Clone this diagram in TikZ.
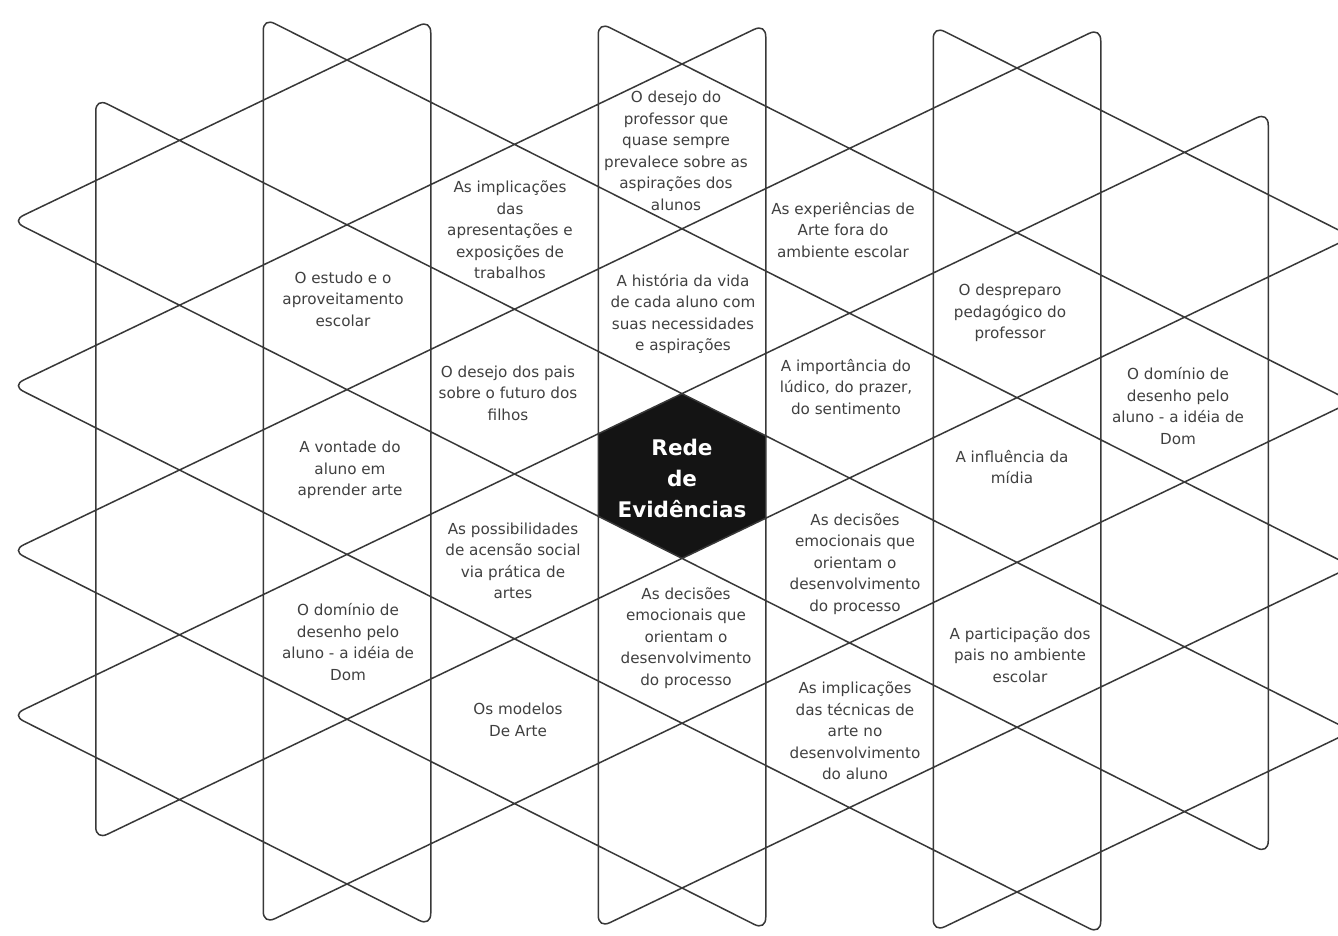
\documentclass[tikz,border=0pt]{standalone}
\usepackage{fontspec}
\setmainfont{DejaVu Sans}
\usetikzlibrary{calc}
\begin{document}
\begin{tikzpicture}[x=1pt,y=-1pt,
  grid/.style={draw=black!78,line width=1.5pt,line join=round},
  lbl/.style={align=center,text=black!75,font=\fontsize{15.2}{21.5}\selectfont,inner sep=0pt},
  hubtext/.style={align=center,text=white,font=\fontsize{21.5}{31}\selectfont\bfseries,inner sep=0pt}]
\fill[white] (0,0) rectangle (1338,935);
\useasboundingbox (0,0) rectangle (1338,935);
\def\rr{13pt}
\def\kk{0.6}
% central black hexagon
\fill[black!92] (682,393.6) -- (765.75,435.8) -- (765.75,518.2) -- (682,558.4) -- (598.25,516.2) -- (598.25,433.8) -- cycle;
% kagome lattice, drawn triangle by triangle
\foreach \X in {-7,-5,...,7}{
  \foreach \Y in {-11,-9,...,9}{
    \pgfmathtruncatemacro\ax{abs(\X)}
    \pgfmathtruncatemacro\Yt{\ax==7 ? -9 : -11}
    \pgfmathtruncatemacro\Yb{\ax==7 ? 9 : 11}
    \pgfmathtruncatemacro\Yn{\Y+2}
    \pgfmathtruncatemacro\ok{(\Y>=\Yt) && (\Yn<=\Yb) ? 1 : 0}
    \ifnum\ok=1
      \pgfmathtruncatemacro\s{mod(\X+\Y+402,4)}
      \pgfmathtruncatemacro\Xt{\s==0 ? \X-1 : \X+1}
      \pgfmathtruncatemacro\Yc{\Y+1}
      \pgfmathtruncatemacro\at{abs(\Xt)}
      \coordinate (A) at ({682+83.75*(\X)},{476+41.2*(\Y)+(\X)});
      \coordinate (B) at ({682+83.75*(\X)},{476+41.2*(\Yn)+(\X)});
      \coordinate (T) at ({682+83.75*(\Xt)},{476+41.2*(\Yc)+(\Xt)});
      \coordinate (M) at ($(A)!0.5!(B)$);
      \coordinate (A1) at ($(A)!\rr!(T)$);
      \coordinate (A2) at ($(A)!\rr!(M)$);
      \coordinate (B1) at ($(B)!\rr!(M)$);
      \coordinate (B2) at ($(B)!\rr!(T)$);
      \coordinate (T1) at ($(T)!\rr!(B)$);
      \coordinate (T2) at ($(T)!\rr!(A)$);
      \ifnum\Yn=\Yb
        \def\cB{-- (B1) .. controls ($(B1)!\kk!(B)$) and ($(B2)!\kk!(B)$) .. (B2)}%
      \else\def\cB{-- (B)}\fi
      \ifnum\at=8
        \def\cT{-- (T1) .. controls ($(T1)!\kk!(T)$) and ($(T2)!\kk!(T)$) .. (T2)}%
      \else\def\cT{-- (T)}\fi
      \ifnum\Y=\Yt
        \def\cA{-- (A1) .. controls ($(A1)!\kk!(A)$) and ($(A2)!\kk!(A)$) .. (A2)}%
      \else\def\cA{-- (A)}\fi
      \draw[grid] (M) \cB \cT \cA -- cycle;
    \fi
  }
}
% labels
\node[hubtext] (hub) at (682,478) {Rede\\de\\Evidências};
\node[lbl] (t1) at (676,151) {O desejo do\\professor que\\quase sempre\\prevalece sobre as\\aspirações dos\\alunos};
\node[lbl] (t2) at (510,230) {As implicações\\das\\apresentações e\\exposições de\\trabalhos};
\node[lbl] (t3) at (843,230) {As experiências de\\Arte fora do\\ambiente escolar};
\node[lbl] (t4) at (343,299) {O estudo e o\\aproveitamento\\escolar};
\node[lbl] (t5) at (683,314) {A história da vida\\de cada aluno com\\suas necessidades\\e aspirações};
\node[lbl] (t6) at (1010,313) {O despreparo\\pedagógico do\\professor};
\node[lbl] (t7) at (508,393) {O desejo dos pais\\sobre o futuro dos\\filhos};
\node[lbl] (t8) at (846,387) {A importância do\\lúdico, do prazer,\\do sentimento};
\node[lbl] (t9) at (1178,406) {O domínio de\\desenho pelo\\aluno - a idéia de\\Dom};
\node[lbl] (t10) at (350,470) {A vontade do\\aluno em\\aprender arte};
\node[lbl] (t11) at (1012,467) {A influência da\\mídia};
\node[lbl] (t12) at (513,561) {As possibilidades\\de acensão social\\via prática de\\artes};
\node[lbl] (t13) at (855,564) {As decisões\\emocionais que\\orientam o\\desenvolvimento\\do processo};
\node[lbl] (t14) at (686,638) {As decisões\\emocionais que\\orientam o\\desenvolvimento\\do processo};
\node[lbl] (t15) at (348,642) {O domínio de\\desenho pelo\\aluno - a idéia de\\Dom};
\node[lbl] (t16) at (1020,655) {A participação dos\\pais no ambiente\\escolar};
\node[lbl] (t17) at (518,720) {Os modelos\\De Arte};
\node[lbl] (t18) at (855,731) {As implicações\\das técnicas de\\arte no\\desenvolvimento\\do aluno};
\end{tikzpicture}
\end{document}
